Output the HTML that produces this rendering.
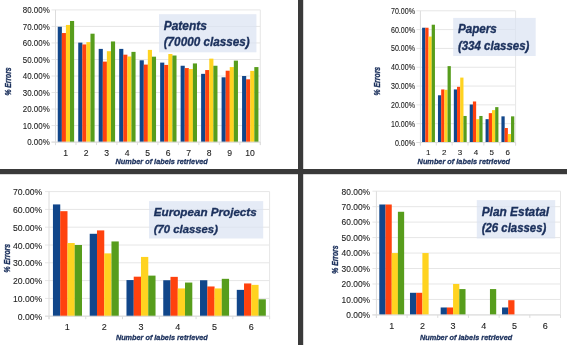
<!DOCTYPE html>
<html><head><meta charset="utf-8"><style>
html,body{margin:0;padding:0;background:#fff;width:567px;height:345px;overflow:hidden}
svg{display:block;font-family:"Liberation Sans",sans-serif;filter:blur(0.45px)}
</style></head><body>
<svg width="567" height="345" viewBox="0 0 567 345">
<rect x="0" y="0" width="567" height="345" fill="#fff"/>
<line x1="51.5" y1="9.9" x2="260.3" y2="9.9" stroke="#e6e6e6" stroke-width="1"/>
<line x1="51.5" y1="26.42" x2="260.3" y2="26.42" stroke="#e6e6e6" stroke-width="1"/>
<line x1="51.5" y1="42.95" x2="260.3" y2="42.95" stroke="#e6e6e6" stroke-width="1"/>
<line x1="51.5" y1="59.47" x2="260.3" y2="59.47" stroke="#e6e6e6" stroke-width="1"/>
<line x1="51.5" y1="76" x2="260.3" y2="76" stroke="#e6e6e6" stroke-width="1"/>
<line x1="51.5" y1="92.53" x2="260.3" y2="92.53" stroke="#e6e6e6" stroke-width="1"/>
<line x1="51.5" y1="109.05" x2="260.3" y2="109.05" stroke="#e6e6e6" stroke-width="1"/>
<line x1="51.5" y1="125.57" x2="260.3" y2="125.57" stroke="#e6e6e6" stroke-width="1"/>
<line x1="51.5" y1="142.1" x2="260.3" y2="142.1" stroke="#e6e6e6" stroke-width="1"/>
<line x1="260.3" y1="9.9" x2="260.3" y2="145.1" stroke="#e6e6e6" stroke-width="1"/>
<line x1="55.5" y1="9.9" x2="55.5" y2="145.1" stroke="#dcdcdc" stroke-width="1"/>
<rect x="159" y="14.2" width="97.4" height="38.1" fill="#dae2f2" fill-opacity="0.7"/>
<line x1="55.5" y1="142.1" x2="55.5" y2="145.1" stroke="#dcdcdc" stroke-width="1"/>
<line x1="75.98" y1="142.1" x2="75.98" y2="145.1" stroke="#dcdcdc" stroke-width="1"/>
<line x1="96.46" y1="142.1" x2="96.46" y2="145.1" stroke="#dcdcdc" stroke-width="1"/>
<line x1="116.94" y1="142.1" x2="116.94" y2="145.1" stroke="#dcdcdc" stroke-width="1"/>
<line x1="137.42" y1="142.1" x2="137.42" y2="145.1" stroke="#dcdcdc" stroke-width="1"/>
<line x1="157.9" y1="142.1" x2="157.9" y2="145.1" stroke="#dcdcdc" stroke-width="1"/>
<line x1="178.38" y1="142.1" x2="178.38" y2="145.1" stroke="#dcdcdc" stroke-width="1"/>
<line x1="198.86" y1="142.1" x2="198.86" y2="145.1" stroke="#dcdcdc" stroke-width="1"/>
<line x1="219.34" y1="142.1" x2="219.34" y2="145.1" stroke="#dcdcdc" stroke-width="1"/>
<line x1="239.82" y1="142.1" x2="239.82" y2="145.1" stroke="#dcdcdc" stroke-width="1"/>
<line x1="260.3" y1="142.1" x2="260.3" y2="145.1" stroke="#dcdcdc" stroke-width="1"/>
<rect x="57.75" y="26.76" width="4.13" height="115.34" fill="#11468a"/>
<rect x="61.83" y="33.04" width="4.13" height="109.06" fill="#ff420e"/>
<rect x="65.91" y="24.94" width="4.13" height="117.16" fill="#ffd320"/>
<rect x="69.99" y="20.97" width="4.13" height="121.13" fill="#579d1c"/>
<rect x="78.23" y="42.62" width="4.13" height="99.48" fill="#11468a"/>
<rect x="82.31" y="44.44" width="4.13" height="97.66" fill="#ff420e"/>
<rect x="86.39" y="42.12" width="4.13" height="99.98" fill="#ffd320"/>
<rect x="90.47" y="33.7" width="4.13" height="108.4" fill="#579d1c"/>
<rect x="98.71" y="48.9" width="4.13" height="93.2" fill="#11468a"/>
<rect x="102.79" y="61.62" width="4.13" height="80.48" fill="#ff420e"/>
<rect x="106.87" y="51.21" width="4.13" height="90.89" fill="#ffd320"/>
<rect x="110.95" y="41.46" width="4.13" height="100.64" fill="#579d1c"/>
<rect x="119.19" y="48.9" width="4.13" height="93.2" fill="#11468a"/>
<rect x="123.27" y="54.68" width="4.13" height="87.42" fill="#ff420e"/>
<rect x="127.35" y="56.5" width="4.13" height="85.6" fill="#ffd320"/>
<rect x="131.43" y="51.87" width="4.13" height="90.23" fill="#579d1c"/>
<rect x="139.67" y="60.3" width="4.13" height="81.8" fill="#11468a"/>
<rect x="143.75" y="64.6" width="4.13" height="77.5" fill="#ff420e"/>
<rect x="147.83" y="49.89" width="4.13" height="92.21" fill="#ffd320"/>
<rect x="151.91" y="56.67" width="4.13" height="85.43" fill="#579d1c"/>
<rect x="160.15" y="62.61" width="4.13" height="79.49" fill="#11468a"/>
<rect x="164.23" y="64.93" width="4.13" height="77.17" fill="#ff420e"/>
<rect x="168.31" y="54.02" width="4.13" height="88.08" fill="#ffd320"/>
<rect x="172.39" y="55.51" width="4.13" height="86.59" fill="#579d1c"/>
<rect x="180.63" y="65.75" width="4.13" height="76.35" fill="#11468a"/>
<rect x="184.71" y="68.07" width="4.13" height="74.03" fill="#ff420e"/>
<rect x="188.79" y="69.06" width="4.13" height="73.04" fill="#ffd320"/>
<rect x="192.87" y="63.44" width="4.13" height="78.66" fill="#579d1c"/>
<rect x="201.11" y="73.85" width="4.13" height="68.25" fill="#11468a"/>
<rect x="205.19" y="70.05" width="4.13" height="72.05" fill="#ff420e"/>
<rect x="209.27" y="58.65" width="4.13" height="83.45" fill="#ffd320"/>
<rect x="213.35" y="65.75" width="4.13" height="76.35" fill="#579d1c"/>
<rect x="221.59" y="77.32" width="4.13" height="64.78" fill="#11468a"/>
<rect x="225.67" y="70.71" width="4.13" height="71.39" fill="#ff420e"/>
<rect x="229.75" y="67.08" width="4.13" height="75.02" fill="#ffd320"/>
<rect x="233.83" y="60.63" width="4.13" height="81.47" fill="#579d1c"/>
<rect x="242.07" y="76" width="4.13" height="66.1" fill="#11468a"/>
<rect x="246.15" y="79.31" width="4.13" height="62.79" fill="#ff420e"/>
<rect x="250.23" y="70.88" width="4.13" height="71.22" fill="#ffd320"/>
<rect x="254.31" y="67.08" width="4.13" height="75.02" fill="#579d1c"/>
<line x1="51.5" y1="142.1" x2="260.3" y2="142.1" stroke="#dcdcdc" stroke-width="1"/>
<text x="49.7" y="13.14" font-size="9.0" text-anchor="end" fill="#1c1c1c" stroke="#1c1c1c" stroke-width="0.1" textLength="26.9" lengthAdjust="spacingAndGlyphs">80.00%</text>
<text x="49.7" y="29.66" font-size="9.0" text-anchor="end" fill="#1c1c1c" stroke="#1c1c1c" stroke-width="0.1" textLength="26.9" lengthAdjust="spacingAndGlyphs">70.00%</text>
<text x="49.7" y="46.19" font-size="9.0" text-anchor="end" fill="#1c1c1c" stroke="#1c1c1c" stroke-width="0.1" textLength="26.9" lengthAdjust="spacingAndGlyphs">60.00%</text>
<text x="49.7" y="62.71" font-size="9.0" text-anchor="end" fill="#1c1c1c" stroke="#1c1c1c" stroke-width="0.1" textLength="26.9" lengthAdjust="spacingAndGlyphs">50.00%</text>
<text x="49.7" y="79.24" font-size="9.0" text-anchor="end" fill="#1c1c1c" stroke="#1c1c1c" stroke-width="0.1" textLength="26.9" lengthAdjust="spacingAndGlyphs">40.00%</text>
<text x="49.7" y="95.77" font-size="9.0" text-anchor="end" fill="#1c1c1c" stroke="#1c1c1c" stroke-width="0.1" textLength="26.9" lengthAdjust="spacingAndGlyphs">30.00%</text>
<text x="49.7" y="112.29" font-size="9.0" text-anchor="end" fill="#1c1c1c" stroke="#1c1c1c" stroke-width="0.1" textLength="26.9" lengthAdjust="spacingAndGlyphs">20.00%</text>
<text x="49.7" y="128.81" font-size="9.0" text-anchor="end" fill="#1c1c1c" stroke="#1c1c1c" stroke-width="0.1" textLength="26.9" lengthAdjust="spacingAndGlyphs">10.00%</text>
<text x="49.7" y="145.34" font-size="9.0" text-anchor="end" fill="#1c1c1c" stroke="#1c1c1c" stroke-width="0.1" textLength="22.49" lengthAdjust="spacingAndGlyphs">0.00%</text>
<text x="65.74" y="155.6" font-size="8.6" text-anchor="middle" fill="#1c1c1c" stroke="#1c1c1c" stroke-width="0.1">1</text>
<text x="86.22" y="155.6" font-size="8.6" text-anchor="middle" fill="#1c1c1c" stroke="#1c1c1c" stroke-width="0.1">2</text>
<text x="106.7" y="155.6" font-size="8.6" text-anchor="middle" fill="#1c1c1c" stroke="#1c1c1c" stroke-width="0.1">3</text>
<text x="127.18" y="155.6" font-size="8.6" text-anchor="middle" fill="#1c1c1c" stroke="#1c1c1c" stroke-width="0.1">4</text>
<text x="147.66" y="155.6" font-size="8.6" text-anchor="middle" fill="#1c1c1c" stroke="#1c1c1c" stroke-width="0.1">5</text>
<text x="168.14" y="155.6" font-size="8.6" text-anchor="middle" fill="#1c1c1c" stroke="#1c1c1c" stroke-width="0.1">6</text>
<text x="188.62" y="155.6" font-size="8.6" text-anchor="middle" fill="#1c1c1c" stroke="#1c1c1c" stroke-width="0.1">7</text>
<text x="209.1" y="155.6" font-size="8.6" text-anchor="middle" fill="#1c1c1c" stroke="#1c1c1c" stroke-width="0.1">8</text>
<text x="229.58" y="155.6" font-size="8.6" text-anchor="middle" fill="#1c1c1c" stroke="#1c1c1c" stroke-width="0.1">9</text>
<text x="250.06" y="155.6" font-size="8.6" text-anchor="middle" fill="#1c1c1c" stroke="#1c1c1c" stroke-width="0.1">10</text>
<text x="115.5" y="164.3" font-size="7.9" font-weight="bold" font-style="italic" fill="#1b305c" stroke="#1b305c" stroke-width="0.3" textLength="92.3" lengthAdjust="spacingAndGlyphs">Number of labels retrieved</text>
<text transform="translate(11.4,81.5) rotate(-90)" x="0" y="0" font-size="8.6" font-weight="bold" font-style="italic" fill="#1b305c" stroke="#1b305c" stroke-width="0.35" text-anchor="middle" textLength="28.2" lengthAdjust="spacingAndGlyphs">% Errors</text>
<text x="163.7" y="29.6" font-size="13.2" font-weight="bold" font-style="italic" fill="#1b305c" stroke="#1b305c" stroke-width="0.35" textLength="43.2" lengthAdjust="spacingAndGlyphs">Patents</text>
<text x="163.7" y="46.3" font-size="13.2" font-weight="bold" font-style="italic" fill="#1b305c" stroke="#1b305c" stroke-width="0.35" textLength="86.1" lengthAdjust="spacingAndGlyphs">(70000 classes)</text>
<line x1="416.4" y1="10.8" x2="515.6" y2="10.8" stroke="#e6e6e6" stroke-width="1"/>
<line x1="416.4" y1="29.61" x2="515.6" y2="29.61" stroke="#e6e6e6" stroke-width="1"/>
<line x1="416.4" y1="48.43" x2="515.6" y2="48.43" stroke="#e6e6e6" stroke-width="1"/>
<line x1="416.4" y1="67.24" x2="515.6" y2="67.24" stroke="#e6e6e6" stroke-width="1"/>
<line x1="416.4" y1="86.06" x2="515.6" y2="86.06" stroke="#e6e6e6" stroke-width="1"/>
<line x1="416.4" y1="104.87" x2="515.6" y2="104.87" stroke="#e6e6e6" stroke-width="1"/>
<line x1="416.4" y1="123.69" x2="515.6" y2="123.69" stroke="#e6e6e6" stroke-width="1"/>
<line x1="416.4" y1="142.5" x2="515.6" y2="142.5" stroke="#e6e6e6" stroke-width="1"/>
<line x1="515.6" y1="10.8" x2="515.6" y2="145.5" stroke="#e6e6e6" stroke-width="1"/>
<line x1="420.4" y1="10.8" x2="420.4" y2="145.5" stroke="#dcdcdc" stroke-width="1"/>
<rect x="453.2" y="17.9" width="82.5" height="38.1" fill="#dae2f2" fill-opacity="0.7"/>
<line x1="420.4" y1="142.5" x2="420.4" y2="145.5" stroke="#dcdcdc" stroke-width="1"/>
<line x1="436.27" y1="142.5" x2="436.27" y2="145.5" stroke="#dcdcdc" stroke-width="1"/>
<line x1="452.13" y1="142.5" x2="452.13" y2="145.5" stroke="#dcdcdc" stroke-width="1"/>
<line x1="468" y1="142.5" x2="468" y2="145.5" stroke="#dcdcdc" stroke-width="1"/>
<line x1="483.87" y1="142.5" x2="483.87" y2="145.5" stroke="#dcdcdc" stroke-width="1"/>
<line x1="499.73" y1="142.5" x2="499.73" y2="145.5" stroke="#dcdcdc" stroke-width="1"/>
<line x1="515.6" y1="142.5" x2="515.6" y2="145.5" stroke="#dcdcdc" stroke-width="1"/>
<rect x="422.1" y="27.73" width="3.25" height="114.77" fill="#11468a"/>
<rect x="425.3" y="27.73" width="3.25" height="114.77" fill="#ff420e"/>
<rect x="428.5" y="36.58" width="3.25" height="105.92" fill="#ffd320"/>
<rect x="431.7" y="24.72" width="3.25" height="117.78" fill="#579d1c"/>
<rect x="437.97" y="95.28" width="3.25" height="47.22" fill="#11468a"/>
<rect x="441.17" y="89.44" width="3.25" height="53.06" fill="#ff420e"/>
<rect x="444.37" y="89.82" width="3.25" height="52.68" fill="#ffd320"/>
<rect x="447.57" y="66.11" width="3.25" height="76.39" fill="#579d1c"/>
<rect x="453.83" y="89.44" width="3.25" height="53.06" fill="#11468a"/>
<rect x="457.03" y="86.81" width="3.25" height="55.69" fill="#ff420e"/>
<rect x="460.23" y="77.59" width="3.25" height="64.91" fill="#ffd320"/>
<rect x="463.43" y="115.97" width="3.25" height="26.53" fill="#579d1c"/>
<rect x="469.7" y="104.5" width="3.25" height="38" fill="#11468a"/>
<rect x="472.9" y="101.48" width="3.25" height="41.02" fill="#ff420e"/>
<rect x="476.1" y="119.17" width="3.25" height="23.33" fill="#ffd320"/>
<rect x="479.3" y="115.97" width="3.25" height="26.53" fill="#579d1c"/>
<rect x="485.57" y="119.17" width="3.25" height="23.33" fill="#11468a"/>
<rect x="488.77" y="113.15" width="3.25" height="29.35" fill="#ff420e"/>
<rect x="491.97" y="110.14" width="3.25" height="32.36" fill="#ffd320"/>
<rect x="495.17" y="107.13" width="3.25" height="35.37" fill="#579d1c"/>
<rect x="501.43" y="116.35" width="3.25" height="26.15" fill="#11468a"/>
<rect x="504.63" y="128.01" width="3.25" height="14.49" fill="#ff420e"/>
<rect x="507.83" y="134.03" width="3.25" height="8.47" fill="#ffd320"/>
<rect x="511.03" y="116.35" width="3.25" height="26.15" fill="#579d1c"/>
<line x1="416.4" y1="142.5" x2="515.6" y2="142.5" stroke="#dcdcdc" stroke-width="1"/>
<text x="415" y="13.82" font-size="8.4" text-anchor="end" fill="#1c1c1c" stroke="#1c1c1c" stroke-width="0.1" textLength="24" lengthAdjust="spacingAndGlyphs">70.00%</text>
<text x="415" y="32.64" font-size="8.4" text-anchor="end" fill="#1c1c1c" stroke="#1c1c1c" stroke-width="0.1" textLength="24" lengthAdjust="spacingAndGlyphs">60.00%</text>
<text x="415" y="51.45" font-size="8.4" text-anchor="end" fill="#1c1c1c" stroke="#1c1c1c" stroke-width="0.1" textLength="24" lengthAdjust="spacingAndGlyphs">50.00%</text>
<text x="415" y="70.27" font-size="8.4" text-anchor="end" fill="#1c1c1c" stroke="#1c1c1c" stroke-width="0.1" textLength="24" lengthAdjust="spacingAndGlyphs">40.00%</text>
<text x="415" y="89.08" font-size="8.4" text-anchor="end" fill="#1c1c1c" stroke="#1c1c1c" stroke-width="0.1" textLength="24" lengthAdjust="spacingAndGlyphs">30.00%</text>
<text x="415" y="107.9" font-size="8.4" text-anchor="end" fill="#1c1c1c" stroke="#1c1c1c" stroke-width="0.1" textLength="24" lengthAdjust="spacingAndGlyphs">20.00%</text>
<text x="415" y="126.71" font-size="8.4" text-anchor="end" fill="#1c1c1c" stroke="#1c1c1c" stroke-width="0.1" textLength="24" lengthAdjust="spacingAndGlyphs">10.00%</text>
<text x="415" y="145.52" font-size="8.4" text-anchor="end" fill="#1c1c1c" stroke="#1c1c1c" stroke-width="0.1" textLength="20.06" lengthAdjust="spacingAndGlyphs">0.00%</text>
<text x="428.33" y="154.78" font-size="8.0" text-anchor="middle" fill="#1c1c1c" stroke="#1c1c1c" stroke-width="0.1">1</text>
<text x="444.2" y="154.78" font-size="8.0" text-anchor="middle" fill="#1c1c1c" stroke="#1c1c1c" stroke-width="0.1">2</text>
<text x="460.07" y="154.78" font-size="8.0" text-anchor="middle" fill="#1c1c1c" stroke="#1c1c1c" stroke-width="0.1">3</text>
<text x="475.93" y="154.78" font-size="8.0" text-anchor="middle" fill="#1c1c1c" stroke="#1c1c1c" stroke-width="0.1">4</text>
<text x="491.8" y="154.78" font-size="8.0" text-anchor="middle" fill="#1c1c1c" stroke="#1c1c1c" stroke-width="0.1">5</text>
<text x="507.67" y="154.78" font-size="8.0" text-anchor="middle" fill="#1c1c1c" stroke="#1c1c1c" stroke-width="0.1">6</text>
<text x="417.6" y="163.5" font-size="7.9" font-weight="bold" font-style="italic" fill="#1b305c" stroke="#1b305c" stroke-width="0.3" textLength="92.5" lengthAdjust="spacingAndGlyphs">Number of labels retrieved</text>
<text transform="translate(379.7,81.2) rotate(-90)" x="0" y="0" font-size="8.6" font-weight="bold" font-style="italic" fill="#1b305c" stroke="#1b305c" stroke-width="0.35" text-anchor="middle" textLength="28.7" lengthAdjust="spacingAndGlyphs">% Errors</text>
<text x="457.9" y="32.9" font-size="11.9" font-weight="bold" font-style="italic" fill="#1b305c" stroke="#1b305c" stroke-width="0.35" textLength="38.9" lengthAdjust="spacingAndGlyphs">Papers</text>
<text x="457.9" y="49.9" font-size="11.9" font-weight="bold" font-style="italic" fill="#1b305c" stroke="#1b305c" stroke-width="0.35" textLength="71.5" lengthAdjust="spacingAndGlyphs">(334 classes)</text>
<line x1="45" y1="191.6" x2="269.6" y2="191.6" stroke="#e6e6e6" stroke-width="1"/>
<line x1="45" y1="209.4" x2="269.6" y2="209.4" stroke="#e6e6e6" stroke-width="1"/>
<line x1="45" y1="227.2" x2="269.6" y2="227.2" stroke="#e6e6e6" stroke-width="1"/>
<line x1="45" y1="245" x2="269.6" y2="245" stroke="#e6e6e6" stroke-width="1"/>
<line x1="45" y1="262.8" x2="269.6" y2="262.8" stroke="#e6e6e6" stroke-width="1"/>
<line x1="45" y1="280.6" x2="269.6" y2="280.6" stroke="#e6e6e6" stroke-width="1"/>
<line x1="45" y1="298.4" x2="269.6" y2="298.4" stroke="#e6e6e6" stroke-width="1"/>
<line x1="45" y1="316.2" x2="269.6" y2="316.2" stroke="#e6e6e6" stroke-width="1"/>
<line x1="269.6" y1="191.6" x2="269.6" y2="319.2" stroke="#e6e6e6" stroke-width="1"/>
<line x1="49" y1="191.6" x2="49" y2="319.2" stroke="#dcdcdc" stroke-width="1"/>
<rect x="149" y="201.1" width="114.2" height="37.4" fill="#dae2f2" fill-opacity="0.7"/>
<line x1="49" y1="316.2" x2="49" y2="319.2" stroke="#dcdcdc" stroke-width="1"/>
<line x1="85.77" y1="316.2" x2="85.77" y2="319.2" stroke="#dcdcdc" stroke-width="1"/>
<line x1="122.53" y1="316.2" x2="122.53" y2="319.2" stroke="#dcdcdc" stroke-width="1"/>
<line x1="159.3" y1="316.2" x2="159.3" y2="319.2" stroke="#dcdcdc" stroke-width="1"/>
<line x1="196.07" y1="316.2" x2="196.07" y2="319.2" stroke="#dcdcdc" stroke-width="1"/>
<line x1="232.83" y1="316.2" x2="232.83" y2="319.2" stroke="#dcdcdc" stroke-width="1"/>
<line x1="269.6" y1="316.2" x2="269.6" y2="319.2" stroke="#dcdcdc" stroke-width="1"/>
<rect x="52.95" y="204.42" width="7.3" height="111.78" fill="#11468a"/>
<rect x="60.2" y="211.18" width="7.3" height="105.02" fill="#ff420e"/>
<rect x="67.45" y="243.04" width="7.3" height="73.16" fill="#ffd320"/>
<rect x="74.7" y="245" width="7.3" height="71.2" fill="#579d1c"/>
<rect x="89.72" y="233.79" width="7.3" height="82.41" fill="#11468a"/>
<rect x="96.97" y="230.4" width="7.3" height="85.8" fill="#ff420e"/>
<rect x="104.22" y="253.37" width="7.3" height="62.83" fill="#ffd320"/>
<rect x="111.47" y="241.44" width="7.3" height="74.76" fill="#579d1c"/>
<rect x="126.48" y="280.07" width="7.3" height="36.13" fill="#11468a"/>
<rect x="133.73" y="276.68" width="7.3" height="39.52" fill="#ff420e"/>
<rect x="140.98" y="256.93" width="7.3" height="59.27" fill="#ffd320"/>
<rect x="148.23" y="275.62" width="7.3" height="40.58" fill="#579d1c"/>
<rect x="163.25" y="280.24" width="7.3" height="35.96" fill="#11468a"/>
<rect x="170.5" y="276.86" width="7.3" height="39.34" fill="#ff420e"/>
<rect x="177.75" y="288.43" width="7.3" height="27.77" fill="#ffd320"/>
<rect x="185" y="282.56" width="7.3" height="33.64" fill="#579d1c"/>
<rect x="200.02" y="280.24" width="7.3" height="35.96" fill="#11468a"/>
<rect x="207.27" y="286.47" width="7.3" height="29.73" fill="#ff420e"/>
<rect x="214.52" y="288.43" width="7.3" height="27.77" fill="#ffd320"/>
<rect x="221.77" y="278.82" width="7.3" height="37.38" fill="#579d1c"/>
<rect x="236.78" y="289.86" width="7.3" height="26.34" fill="#11468a"/>
<rect x="244.03" y="283.45" width="7.3" height="32.75" fill="#ff420e"/>
<rect x="251.28" y="284.87" width="7.3" height="31.33" fill="#ffd320"/>
<rect x="258.53" y="299.29" width="7.3" height="16.91" fill="#579d1c"/>
<line x1="45" y1="316.2" x2="269.6" y2="316.2" stroke="#dcdcdc" stroke-width="1"/>
<text x="42.2" y="195.16" font-size="9.9" text-anchor="end" fill="#1c1c1c" stroke="#1c1c1c" stroke-width="0.1" textLength="29.3" lengthAdjust="spacingAndGlyphs">70.00%</text>
<text x="42.2" y="212.96" font-size="9.9" text-anchor="end" fill="#1c1c1c" stroke="#1c1c1c" stroke-width="0.1" textLength="29.3" lengthAdjust="spacingAndGlyphs">60.00%</text>
<text x="42.2" y="230.76" font-size="9.9" text-anchor="end" fill="#1c1c1c" stroke="#1c1c1c" stroke-width="0.1" textLength="29.3" lengthAdjust="spacingAndGlyphs">50.00%</text>
<text x="42.2" y="248.56" font-size="9.9" text-anchor="end" fill="#1c1c1c" stroke="#1c1c1c" stroke-width="0.1" textLength="29.3" lengthAdjust="spacingAndGlyphs">40.00%</text>
<text x="42.2" y="266.36" font-size="9.9" text-anchor="end" fill="#1c1c1c" stroke="#1c1c1c" stroke-width="0.1" textLength="29.3" lengthAdjust="spacingAndGlyphs">30.00%</text>
<text x="42.2" y="284.16" font-size="9.9" text-anchor="end" fill="#1c1c1c" stroke="#1c1c1c" stroke-width="0.1" textLength="29.3" lengthAdjust="spacingAndGlyphs">20.00%</text>
<text x="42.2" y="301.96" font-size="9.9" text-anchor="end" fill="#1c1c1c" stroke="#1c1c1c" stroke-width="0.1" textLength="29.3" lengthAdjust="spacingAndGlyphs">10.00%</text>
<text x="42.2" y="319.76" font-size="9.9" text-anchor="end" fill="#1c1c1c" stroke="#1c1c1c" stroke-width="0.1" textLength="24.5" lengthAdjust="spacingAndGlyphs">0.00%</text>
<text x="67.38" y="330.24" font-size="9.0" text-anchor="middle" fill="#1c1c1c" stroke="#1c1c1c" stroke-width="0.1">1</text>
<text x="104.15" y="330.24" font-size="9.0" text-anchor="middle" fill="#1c1c1c" stroke="#1c1c1c" stroke-width="0.1">2</text>
<text x="140.92" y="330.24" font-size="9.0" text-anchor="middle" fill="#1c1c1c" stroke="#1c1c1c" stroke-width="0.1">3</text>
<text x="177.68" y="330.24" font-size="9.0" text-anchor="middle" fill="#1c1c1c" stroke="#1c1c1c" stroke-width="0.1">4</text>
<text x="214.45" y="330.24" font-size="9.0" text-anchor="middle" fill="#1c1c1c" stroke="#1c1c1c" stroke-width="0.1">5</text>
<text x="251.22" y="330.24" font-size="9.0" text-anchor="middle" fill="#1c1c1c" stroke="#1c1c1c" stroke-width="0.1">6</text>
<text x="115.9" y="340.2" font-size="7.9" font-weight="bold" font-style="italic" fill="#1b305c" stroke="#1b305c" stroke-width="0.3" textLength="91.9" lengthAdjust="spacingAndGlyphs">Number of labels retrieved</text>
<text transform="translate(10.3,258.2) rotate(-90)" x="0" y="0" font-size="8.6" font-weight="bold" font-style="italic" fill="#1b305c" stroke="#1b305c" stroke-width="0.35" text-anchor="middle" textLength="28.4" lengthAdjust="spacingAndGlyphs">% Errors</text>
<text x="153.8" y="216" font-size="11.8" font-weight="bold" font-style="italic" fill="#1b305c" stroke="#1b305c" stroke-width="0.35" textLength="102.9" lengthAdjust="spacingAndGlyphs">European Projects</text>
<text x="153.8" y="232.5" font-size="11.8" font-weight="bold" font-style="italic" fill="#1b305c" stroke="#1b305c" stroke-width="0.35" textLength="64.1" lengthAdjust="spacingAndGlyphs">(70 classes)</text>
<line x1="372.4" y1="191.2" x2="560.5" y2="191.2" stroke="#e6e6e6" stroke-width="1"/>
<line x1="372.4" y1="206.66" x2="560.5" y2="206.66" stroke="#e6e6e6" stroke-width="1"/>
<line x1="372.4" y1="222.12" x2="560.5" y2="222.12" stroke="#e6e6e6" stroke-width="1"/>
<line x1="372.4" y1="237.59" x2="560.5" y2="237.59" stroke="#e6e6e6" stroke-width="1"/>
<line x1="372.4" y1="253.05" x2="560.5" y2="253.05" stroke="#e6e6e6" stroke-width="1"/>
<line x1="372.4" y1="268.51" x2="560.5" y2="268.51" stroke="#e6e6e6" stroke-width="1"/>
<line x1="372.4" y1="283.97" x2="560.5" y2="283.97" stroke="#e6e6e6" stroke-width="1"/>
<line x1="372.4" y1="299.44" x2="560.5" y2="299.44" stroke="#e6e6e6" stroke-width="1"/>
<line x1="372.4" y1="314.9" x2="560.5" y2="314.9" stroke="#e6e6e6" stroke-width="1"/>
<line x1="560.5" y1="191.2" x2="560.5" y2="317.9" stroke="#e6e6e6" stroke-width="1"/>
<line x1="376.4" y1="191.2" x2="376.4" y2="317.9" stroke="#dcdcdc" stroke-width="1"/>
<rect x="476.8" y="200.1" width="78.4" height="38.4" fill="#dae2f2" fill-opacity="0.7"/>
<line x1="376.4" y1="314.9" x2="376.4" y2="317.9" stroke="#dcdcdc" stroke-width="1"/>
<line x1="407.08" y1="314.9" x2="407.08" y2="317.9" stroke="#dcdcdc" stroke-width="1"/>
<line x1="437.77" y1="314.9" x2="437.77" y2="317.9" stroke="#dcdcdc" stroke-width="1"/>
<line x1="468.45" y1="314.9" x2="468.45" y2="317.9" stroke="#dcdcdc" stroke-width="1"/>
<line x1="499.13" y1="314.9" x2="499.13" y2="317.9" stroke="#dcdcdc" stroke-width="1"/>
<line x1="529.82" y1="314.9" x2="529.82" y2="317.9" stroke="#dcdcdc" stroke-width="1"/>
<line x1="560.5" y1="314.9" x2="560.5" y2="317.9" stroke="#dcdcdc" stroke-width="1"/>
<rect x="379.3" y="204.5" width="6.25" height="110.4" fill="#11468a"/>
<rect x="385.5" y="204.5" width="6.25" height="110.4" fill="#ff420e"/>
<rect x="391.7" y="253.05" width="6.25" height="61.85" fill="#ffd320"/>
<rect x="397.9" y="211.77" width="6.25" height="103.13" fill="#579d1c"/>
<rect x="409.98" y="292.79" width="6.25" height="22.11" fill="#11468a"/>
<rect x="416.18" y="292.79" width="6.25" height="22.11" fill="#ff420e"/>
<rect x="422.38" y="253.05" width="6.25" height="61.85" fill="#ffd320"/>
<rect x="440.67" y="307.48" width="6.25" height="7.42" fill="#11468a"/>
<rect x="446.87" y="307.48" width="6.25" height="7.42" fill="#ff420e"/>
<rect x="453.07" y="283.97" width="6.25" height="30.92" fill="#ffd320"/>
<rect x="459.27" y="289.08" width="6.25" height="25.82" fill="#579d1c"/>
<rect x="489.95" y="289.08" width="6.25" height="25.82" fill="#579d1c"/>
<rect x="502.03" y="307.48" width="6.25" height="7.42" fill="#11468a"/>
<rect x="508.23" y="300.21" width="6.25" height="14.69" fill="#ff420e"/>
<line x1="372.4" y1="314.9" x2="560.5" y2="314.9" stroke="#dcdcdc" stroke-width="1"/>
<text x="370.1" y="194.51" font-size="9.2" text-anchor="end" fill="#1c1c1c" stroke="#1c1c1c" stroke-width="0.1" textLength="28.5" lengthAdjust="spacingAndGlyphs">80.00%</text>
<text x="370.1" y="209.97" font-size="9.2" text-anchor="end" fill="#1c1c1c" stroke="#1c1c1c" stroke-width="0.1" textLength="28.5" lengthAdjust="spacingAndGlyphs">70.00%</text>
<text x="370.1" y="225.44" font-size="9.2" text-anchor="end" fill="#1c1c1c" stroke="#1c1c1c" stroke-width="0.1" textLength="28.5" lengthAdjust="spacingAndGlyphs">60.00%</text>
<text x="370.1" y="240.9" font-size="9.2" text-anchor="end" fill="#1c1c1c" stroke="#1c1c1c" stroke-width="0.1" textLength="28.5" lengthAdjust="spacingAndGlyphs">50.00%</text>
<text x="370.1" y="256.36" font-size="9.2" text-anchor="end" fill="#1c1c1c" stroke="#1c1c1c" stroke-width="0.1" textLength="28.5" lengthAdjust="spacingAndGlyphs">40.00%</text>
<text x="370.1" y="271.82" font-size="9.2" text-anchor="end" fill="#1c1c1c" stroke="#1c1c1c" stroke-width="0.1" textLength="28.5" lengthAdjust="spacingAndGlyphs">30.00%</text>
<text x="370.1" y="287.29" font-size="9.2" text-anchor="end" fill="#1c1c1c" stroke="#1c1c1c" stroke-width="0.1" textLength="28.5" lengthAdjust="spacingAndGlyphs">20.00%</text>
<text x="370.1" y="302.75" font-size="9.2" text-anchor="end" fill="#1c1c1c" stroke="#1c1c1c" stroke-width="0.1" textLength="28.5" lengthAdjust="spacingAndGlyphs">10.00%</text>
<text x="370.1" y="318.21" font-size="9.2" text-anchor="end" fill="#1c1c1c" stroke="#1c1c1c" stroke-width="0.1" textLength="23.83" lengthAdjust="spacingAndGlyphs">0.00%</text>
<text x="391.74" y="329.04" font-size="9.0" text-anchor="middle" fill="#1c1c1c" stroke="#1c1c1c" stroke-width="0.1">1</text>
<text x="422.42" y="329.04" font-size="9.0" text-anchor="middle" fill="#1c1c1c" stroke="#1c1c1c" stroke-width="0.1">2</text>
<text x="453.11" y="329.04" font-size="9.0" text-anchor="middle" fill="#1c1c1c" stroke="#1c1c1c" stroke-width="0.1">3</text>
<text x="483.79" y="329.04" font-size="9.0" text-anchor="middle" fill="#1c1c1c" stroke="#1c1c1c" stroke-width="0.1">4</text>
<text x="514.48" y="329.04" font-size="9.0" text-anchor="middle" fill="#1c1c1c" stroke="#1c1c1c" stroke-width="0.1">5</text>
<text x="545.16" y="329.04" font-size="9.0" text-anchor="middle" fill="#1c1c1c" stroke="#1c1c1c" stroke-width="0.1">6</text>
<text x="419.9" y="339.7" font-size="7.9" font-weight="bold" font-style="italic" fill="#1b305c" stroke="#1b305c" stroke-width="0.3" textLength="92.3" lengthAdjust="spacingAndGlyphs">Number of labels retrieved</text>
<text transform="translate(338.1,259.6) rotate(-90)" x="0" y="0" font-size="8.6" font-weight="bold" font-style="italic" fill="#1b305c" stroke="#1b305c" stroke-width="0.35" text-anchor="middle" textLength="28.2" lengthAdjust="spacingAndGlyphs">% Errors</text>
<text x="481.7" y="215.5" font-size="12.4" font-weight="bold" font-style="italic" fill="#1b305c" stroke="#1b305c" stroke-width="0.35" textLength="67.4" lengthAdjust="spacingAndGlyphs">Plan Estatal</text>
<text x="481.7" y="231.7" font-size="12.4" font-weight="bold" font-style="italic" fill="#1b305c" stroke="#1b305c" stroke-width="0.35" textLength="64.6" lengthAdjust="spacingAndGlyphs">(26 classes)</text>
<rect x="0" y="169" width="567" height="5.2" fill="#3a3a3a"/>
<rect x="298" y="0" width="5.2" height="345" fill="#3a3a3a"/>
</svg>
</body></html>
